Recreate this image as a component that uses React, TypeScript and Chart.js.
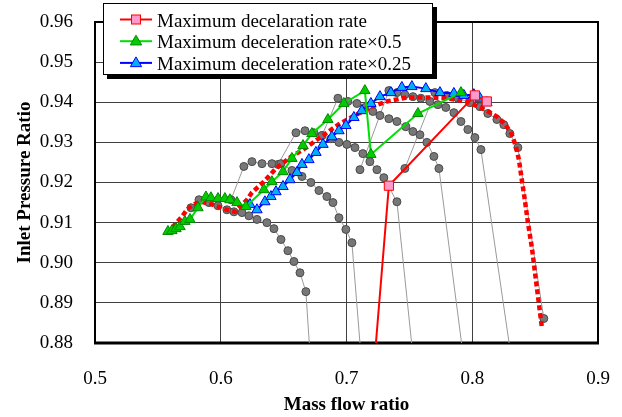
import React, { useEffect, useRef } from 'react';
import { Chart, registerables } from 'chart.js';

Chart.register(...registerables);

// ---------- data (mass flow ratio / inlet pressure ratio) ----------
const seriesLabels = [
  'Maximum decelaration rate',
  'Maximum deceleration rate×0.5',
  'Maximum deceleration rate×0.25',
];

const xTickValues = [0.5, 0.6, 0.7, 0.8, 0.9];
const yTickValues = [0.88, 0.89, 0.9, 0.91, 0.92, 0.93, 0.94, 0.95, 0.96];

// Maximum deceleration rate (red, pink squares)
const maxDecelX = [0.7234, 0.7337, 0.8021, 0.8116];
const maxDecelY = [0.88, 0.9192, 0.9417, 0.9402];

// Maximum deceleration rate x0.5 (green triangles)
const halfX = [0.558, 0.5612, 0.5644, 0.5676, 0.5715, 0.5755, 0.5819, 0.5882, 0.5922, 0.5978, 0.6033, 0.6073, 0.6129, 0.62, 0.6343, 0.6407, 0.6495, 0.6566, 0.6654, 0.6725, 0.6852, 0.6979, 0.7146, 0.7194, 0.7568, 0.791];
const halfY = [0.9078, 0.908, 0.9085, 0.909, 0.9103, 0.9108, 0.9137, 0.9164, 0.9162, 0.916, 0.916, 0.9157, 0.915, 0.914, 0.9182, 0.9202, 0.9227, 0.926, 0.9292, 0.9322, 0.9357, 0.9397, 0.9429, 0.927, 0.9372, 0.9424];

// Maximum deceleration rate x0.25 (blue triangles)
const quarterX = [0.6232, 0.6288, 0.6351, 0.6399, 0.6439, 0.6495, 0.655, 0.6606, 0.6646, 0.6701, 0.6757, 0.6813, 0.6884, 0.694, 0.6995, 0.7059, 0.7122, 0.7194, 0.7266, 0.7353, 0.744, 0.752, 0.7631, 0.7743, 0.7854, 0.7933, 0.8013, 0.8061, 0.8116];
const quarterY = [0.9145, 0.9132, 0.9152, 0.9165, 0.9177, 0.919, 0.9207, 0.9225, 0.9245, 0.9257, 0.9275, 0.9295, 0.9314, 0.9329, 0.9342, 0.9362, 0.9379, 0.9397, 0.9414, 0.9424, 0.9437, 0.9439, 0.9434, 0.9424, 0.9422, 0.9417, 0.9419, 0.941, 0.9399];

// steady characteristic (red dotted)
const charX = [0.5572, 0.5644, 0.5692, 0.5731, 0.5779, 0.5843, 0.5914, 0.5978, 0.6049, 0.6113, 0.6153, 0.6208, 0.6248, 0.6343, 0.6439, 0.655, 0.667, 0.6789, 0.6948, 0.7067, 0.7186, 0.7321, 0.748, 0.7639, 0.7798, 0.7957, 0.8045, 0.8116, 0.8196, 0.8259, 0.8315, 0.8347, 0.8371, 0.8394, 0.8418, 0.8442, 0.8474, 0.8498, 0.8522, 0.8553];
const charY = [0.9073, 0.9098, 0.9115, 0.9132, 0.9145, 0.9152, 0.9147, 0.914, 0.9132, 0.9127, 0.914, 0.9157, 0.9175, 0.9202, 0.9235, 0.9262, 0.9285, 0.9312, 0.9347, 0.9367, 0.9387, 0.9402, 0.9412, 0.9412, 0.941, 0.9402, 0.9389, 0.9379, 0.9364, 0.9347, 0.9319, 0.929, 0.9257, 0.9207, 0.9157, 0.9102, 0.9038, 0.8978, 0.8918, 0.8841];

// constant speed lines (gray)
const speed1X = [0.5763, 0.5827, 0.5906, 0.5978, 0.6049, 0.6105, 0.6169, 0.6224, 0.6288, 0.6367, 0.6423, 0.6479, 0.6534, 0.6582, 0.663, 0.6677, 0.6704];
const speed1Y = [0.9137, 0.9157, 0.915, 0.9142, 0.9132, 0.9127, 0.9125, 0.9117, 0.9108, 0.91, 0.9085, 0.9058, 0.903, 0.9003, 0.8975, 0.8928, 0.88];

const speed2X = [0.6081, 0.6184, 0.6248, 0.6328, 0.6407, 0.6479, 0.6566, 0.6646, 0.6717, 0.6781, 0.6844, 0.6892, 0.694, 0.6995, 0.7043, 0.7107];
const speed2Y = [0.9157, 0.924, 0.9252, 0.9247, 0.9247, 0.9247, 0.923, 0.9215, 0.92, 0.918, 0.9165, 0.915, 0.9112, 0.9083, 0.905, 0.88];

const speed3X = [0.6455, 0.6598, 0.667, 0.6741, 0.6805, 0.6876, 0.694, 0.7003, 0.7067, 0.713, 0.7186, 0.7242, 0.7297, 0.7401, 0.7518];
const speed3Y = [0.9245, 0.9324, 0.9329, 0.9324, 0.9317, 0.9309, 0.93, 0.9295, 0.9287, 0.9272, 0.9252, 0.9232, 0.9212, 0.9152, 0.88];

const speed4X = [0.6805, 0.6932, 0.7011, 0.7083, 0.7146, 0.7209, 0.7266, 0.7337, 0.7401, 0.7472, 0.7528, 0.7584, 0.7639, 0.7695, 0.7735, 0.7915];
const speed4Y = [0.9317, 0.941, 0.9402, 0.9397, 0.9387, 0.9377, 0.9367, 0.9359, 0.9352, 0.9339, 0.9327, 0.9319, 0.93, 0.9265, 0.9235, 0.88];

const speed5X = [0.7107, 0.7337, 0.7401, 0.7464, 0.7528, 0.7591, 0.7663, 0.7727, 0.779, 0.7854, 0.791, 0.7965, 0.8021, 0.8069, 0.8293];
const speed5Y = [0.9232, 0.9429, 0.9424, 0.9419, 0.9414, 0.941, 0.9402, 0.9394, 0.9387, 0.9374, 0.9352, 0.9332, 0.9312, 0.9282, 0.88];

const speed6X = [0.7464, 0.7703, 0.7798, 0.7886, 0.7981, 0.8061, 0.8124, 0.8196, 0.8251, 0.8299, 0.8363, 0.8569];
const speed6Y = [0.9235, 0.9424, 0.9417, 0.941, 0.9399, 0.9389, 0.9372, 0.9357, 0.9344, 0.9322, 0.9287, 0.8861];

const speedLinesX = [speed1X, speed2X, speed3X, speed4X, speed5X, speed6X];
const speedLinesY = [speed1Y, speed2Y, speed3Y, speed4Y, speed5Y, speed6Y];

// ---------- helpers ----------
const pts = (xs: number[], ys: number[]) => xs.map((x, i) => ({ x, y: ys[i] }));
const FONT = '"Liberation Serif", "Times New Roman", serif';

const COLORS = {
  red: '#ff0000',
  pink: '#ff99cc',
  green: '#00e000',
  greenFill: '#00cc00',
  greenEdge: '#008a00',
  blue: '#0000ff',
  blueFill: '#00b0f0',
  grayLine: '#9a9a9a',
  grayFill: '#777777',
  grayEdge: '#4a4a4a',
};

const framePlugin = {
  id: 'frame',
  beforeDatasetsDraw(chart: any) {
    const { ctx, chartArea: a } = chart;
    ctx.save();
    ctx.strokeStyle = '#000';
    ctx.lineWidth = 2;
    ctx.strokeRect(a.left, a.top, a.right - a.left, a.bottom - a.top);
    ctx.lineWidth = 3;
    ctx.beginPath();
    ctx.moveTo(a.left - 1, a.bottom);
    ctx.lineTo(a.right + 1, a.bottom);
    ctx.stroke();
    ctx.restore();
  },
};

function drawTriangle(ctx: CanvasRenderingContext2D, cx: number, cy: number, r: number) {
  ctx.beginPath();
  for (let k = 0; k < 3; k++) {
    const ang = -Math.PI / 2 + (k * 2 * Math.PI) / 3;
    const px = cx + r * Math.cos(ang);
    const py = cy + r * Math.sin(ang);
    if (k === 0) ctx.moveTo(px, py);
    else ctx.lineTo(px, py);
  }
  ctx.closePath();
}

const legendPlugin = {
  id: 'boxLegend',
  afterDraw(chart: any) {
    const ctx: CanvasRenderingContext2D = chart.ctx;
    const bx = 103, by = 3, bw = 330, bh = 72;
    ctx.save();
    ctx.fillStyle = '#000';
    ctx.fillRect(bx + 4, by + 4, bw, bh);
    ctx.fillStyle = '#fff';
    ctx.fillRect(bx, by, bw, bh);
    ctx.strokeStyle = '#000';
    ctx.lineWidth = 1;
    ctx.strokeRect(bx + 0.5, by + 0.5, bw - 1, bh - 1);
    const lineColors = [COLORS.red, COLORS.green, COLORS.blue];
    ctx.font = `19px ${FONT}`;
    ctx.textBaseline = 'alphabetic';
    ctx.textAlign = 'left';
    for (let i = 0; i < 3; i++) {
      const cy = 19.5 + i * 21.7;
      ctx.strokeStyle = lineColors[i];
      ctx.lineWidth = 2;
      ctx.beginPath();
      ctx.moveTo(120, cy);
      ctx.lineTo(152, cy);
      ctx.stroke();
      ctx.lineWidth = 1;
      if (i === 0) {
        ctx.fillStyle = COLORS.pink;
        ctx.fillRect(131.5, cy - 4.5, 9, 9);
        ctx.strokeStyle = COLORS.red;
        ctx.strokeRect(131.5, cy - 4.5, 9, 9);
      } else {
        drawTriangle(ctx, 136, cy + 0.5, 6.5);
        ctx.fillStyle = i === 1 ? COLORS.greenFill : COLORS.blueFill;
        ctx.fill();
        ctx.strokeStyle = i === 1 ? COLORS.greenEdge : COLORS.blue;
        ctx.stroke();
      }
      ctx.fillStyle = '#000';
      ctx.fillText(chart.data.datasets[i].label, 157, cy + 7);
    }
    ctx.restore();
  },
};

const zeroPad = (s: any) => {
  s.paddingLeft = 0;
  s.paddingRight = 0;
  s.paddingTop = 0;
  s.paddingBottom = 0;
};

export default function App() {
  const canvasRef = useRef<HTMLCanvasElement>(null);

  useEffect(() => {
    document.body.style.margin = '0';
    const grayRadius = (c: any) => (c.raw && c.raw.y <= 0.88 ? 0 : 4);

    const grayDatasets = speedLinesX.map((xs, i) => ({
      label: `speed ${i + 1}`,
      data: pts(xs, speedLinesY[i]),
      borderColor: COLORS.grayLine,
      borderWidth: 1,
      pointRadius: grayRadius,
      pointBackgroundColor: COLORS.grayFill,
      pointBorderColor: COLORS.grayEdge,
      pointBorderWidth: 1,
      pointStyle: 'circle',
      tension: 0,
      fill: false,
    }));

    const chart = new Chart(canvasRef.current as HTMLCanvasElement, {
      type: 'line',
      data: {
        datasets: [
          {
            label: seriesLabels[0],
            data: pts(maxDecelX, maxDecelY),
            borderColor: COLORS.red,
            borderWidth: 2,
            pointStyle: 'rect',
            pointRadius: (c: any) => (c.raw && c.raw.y <= 0.88 ? 0 : 6.5),
            pointBackgroundColor: COLORS.pink,
            pointBorderColor: COLORS.red,
            pointBorderWidth: 1,
            tension: 0,
          },
          {
            label: seriesLabels[1],
            data: pts(halfX, halfY),
            borderColor: COLORS.green,
            borderWidth: 2,
            pointStyle: 'triangle',
            pointRadius: 6,
            pointBackgroundColor: COLORS.greenFill,
            pointBorderColor: COLORS.greenEdge,
            pointBorderWidth: 1,
            tension: 0,
          },
          {
            label: seriesLabels[2],
            data: pts(quarterX, quarterY),
            borderColor: COLORS.blue,
            borderWidth: 2,
            pointStyle: 'triangle',
            pointRadius: 6,
            pointBackgroundColor: COLORS.blueFill,
            pointBorderColor: COLORS.blue,
            pointBorderWidth: 1,
            tension: 0,
          },
          {
            label: 'characteristic',
            data: pts(charX, charY),
            borderColor: COLORS.red,
            borderWidth: 4.5,
            borderDash: [5, 3],
            borderCapStyle: 'butt',
            pointRadius: 0,
            tension: 0,
          },
          ...grayDatasets,
        ] as any,
      },
      options: {
        responsive: false,
        animation: false,
        events: [],
        layout: { padding: { left: 0, top: 22, right: 24, bottom: 0 } },
        plugins: {
          legend: { display: false },
          tooltip: { enabled: false },
        },
        scales: {
          x: {
            type: 'linear',
            min: xTickValues[0],
            max: xTickValues[xTickValues.length - 1],
            afterFit: (s: any) => { s.height = 74; zeroPad(s); },
            afterBuildTicks: (s: any) => { s.ticks = xTickValues.map((v) => ({ value: v })); },
            ticks: {
              callback: (v: any) => Number(v).toFixed(1),
              font: { family: FONT, size: 19 },
              color: '#000',
              padding: 25,
              maxRotation: 0,
              autoSkip: false,
            },
            grid: { color: '#404040', lineWidth: 1, drawTicks: false },
            border: { display: false },
            title: {
              display: true,
              text: 'Mass flow ratio',
              font: { family: FONT, size: 19, weight: 'bold' },
              color: '#000',
              padding: { top: 0, bottom: 1 },
            },
          },
          y: {
            type: 'linear',
            min: yTickValues[0],
            max: yTickValues[yTickValues.length - 1],
            afterFit: (s: any) => { s.width = 95; zeroPad(s); },
            afterBuildTicks: (s: any) => { s.ticks = yTickValues.map((v) => ({ value: v })); },
            ticks: {
              callback: (v: any) => Number(v).toFixed(2),
              font: { family: FONT, size: 19 },
              color: '#000',
              padding: 22,
              autoSkip: false,
            },
            grid: { color: '#404040', lineWidth: 1, drawTicks: false },
            border: { display: false },
            title: {
              display: true,
              text: 'Inlet Pressure Ratio',
              font: { family: FONT, size: 19, weight: 'bold' },
              color: '#000',
              padding: { top: 14, bottom: 0 },
            },
          },
        },
      } as any,
      plugins: [framePlugin, legendPlugin],
    });
    return () => chart.destroy();
  }, []);

  return (
    <div style={{ width: 622, height: 417 }}>
      <canvas ref={canvasRef} width={622} height={417} style={{ display: 'block' }} />
    </div>
  );
}
